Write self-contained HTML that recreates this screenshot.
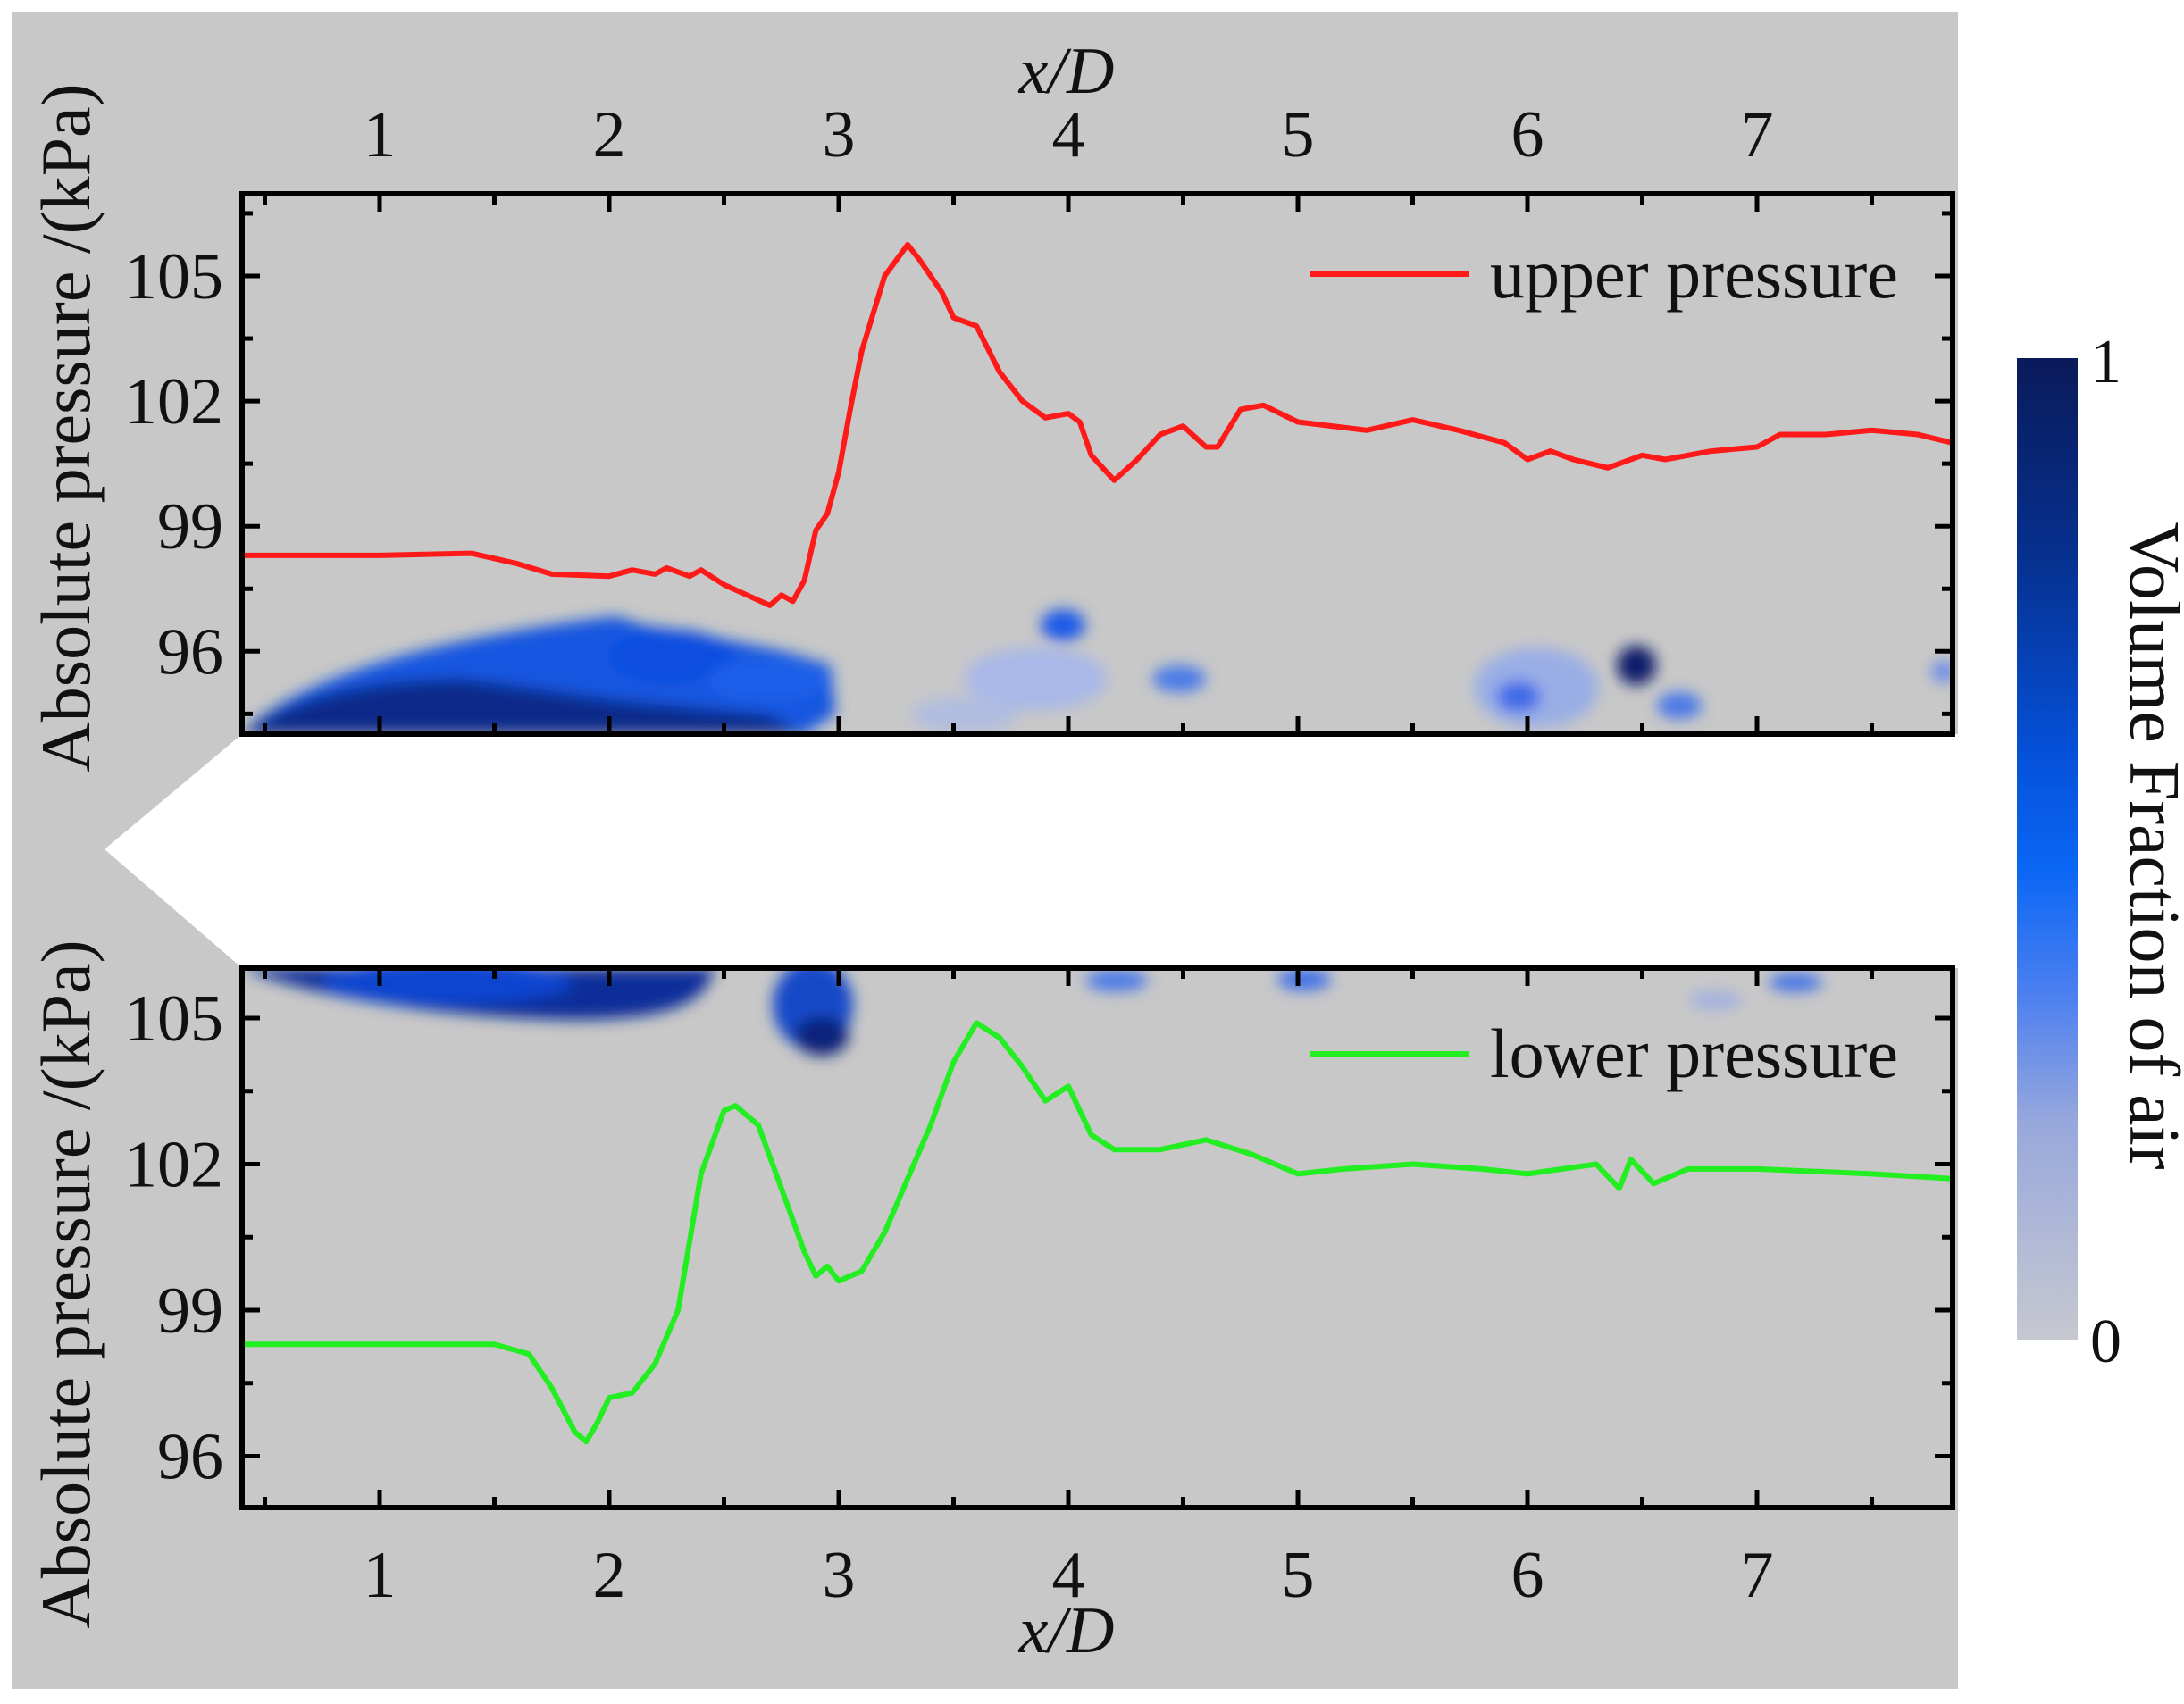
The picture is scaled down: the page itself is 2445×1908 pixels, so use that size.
<!DOCTYPE html>
<html><head><meta charset="utf-8"><style>
html,body{margin:0;padding:0;background:#fff;}
svg{display:block;}
text{font-family:"Liberation Serif",serif;fill:#111;}
</style></head><body>
<svg id="s" width="2445" height="1908" viewBox="0 0 2445 1908" xmlns="http://www.w3.org/2000/svg">
<defs>
<filter id="b1" x="-50%" y="-50%" width="200%" height="200%"><feGaussianBlur stdDeviation="8"/></filter>
<linearGradient id="cb" x1="0" y1="0" x2="0" y2="1">
<stop offset="0" stop-color="#0a1a5a"/>
<stop offset="0.2" stop-color="#06308e"/>
<stop offset="0.4" stop-color="#0550d8"/>
<stop offset="0.52" stop-color="#0a66f5"/>
<stop offset="0.65" stop-color="#4d80f0"/>
<stop offset="0.78" stop-color="#98a8dc"/>
<stop offset="1" stop-color="#c6c8d0"/>
</linearGradient>
<clipPath id="c1"><rect x="271" y="217" width="1915" height="605"/></clipPath>
<clipPath id="c2"><rect x="271" y="1084" width="1915" height="604"/></clipPath>
</defs>
<rect x="13" y="13" width="2179" height="1878" fill="#c8c8c8"/>
<polygon points="271,822 2192,822 2192,1084 271,1084 117,951" fill="#fff"/>

<g clip-path="url(#c1)">
<g filter="url(#b1)">
<path d="M271,822 C330,760 480,715 690,690 L720,700 C760,705 820,718 880,730 L930,745 L935,800 L900,822 Z" fill="#1656e0"/>
<ellipse cx="750" cy="735" rx="70" ry="30" fill="#0a4ee0"/>
<ellipse cx="860" cy="762" rx="70" ry="25" fill="#1a5ee8"/>
<path d="M271,822 C320,780 420,760 520,760 L700,785 L860,800 L900,822 Z" fill="#0b2a8a"/>
<ellipse cx="1190" cy="700" rx="25" ry="18" fill="#1a5ae8"/>
<ellipse cx="1160" cy="760" rx="80" ry="35" fill="#a8b8e8"/>
<ellipse cx="1320" cy="760" rx="30" ry="15" fill="#4a7ae8"/>
<ellipse cx="1080" cy="800" rx="60" ry="20" fill="#b0bde0"/>
<ellipse cx="1720" cy="770" rx="70" ry="45" fill="#9aaee6"/>
<ellipse cx="1700" cy="780" rx="25" ry="18" fill="#3d6ae8"/>
<ellipse cx="1832" cy="745" rx="22" ry="22" fill="#0c1f6a"/>
<ellipse cx="1880" cy="790" rx="25" ry="15" fill="#4a78e8"/>
<ellipse cx="2176" cy="752" rx="14" ry="12" fill="#6a8ae8"/>
</g>
</g>
<g clip-path="url(#c2)">
<g filter="url(#b1)">
<path d="M271,1084 L800,1084 C790,1120 760,1140 650,1142 C480,1140 330,1110 271,1084 Z" fill="#0c2f9a"/>
<ellipse cx="500" cy="1100" rx="140" ry="25" fill="#0a45d0"/>
<ellipse cx="910" cy="1125" rx="45" ry="50" fill="#1548c8"/>
<ellipse cx="920" cy="1160" rx="30" ry="22" fill="#0b237a"/>
<ellipse cx="1250" cy="1098" rx="35" ry="12" fill="#4a78e8"/>
<ellipse cx="1460" cy="1097" rx="30" ry="12" fill="#3c6ee8"/>
<ellipse cx="2010" cy="1100" rx="30" ry="10" fill="#3f70e8"/>
<ellipse cx="1920" cy="1120" rx="30" ry="10" fill="#a0b0e0"/>
</g>
</g>
<g id="plots"></g>

<rect x="2258" y="401" width="68" height="1099" fill="url(#cb)"/>
<text x="2340" y="428" font-size="70">1</text>
<text x="2340" y="1525" font-size="70">0</text>
<text transform="translate(2385,947) rotate(90)" text-anchor="middle" font-size="80">Volume Fraction of air</text>

<text transform="translate(100,479) rotate(-90)" text-anchor="middle" font-size="78">Absolute pressure /(kPa)</text>
<text transform="translate(100,1438) rotate(-90)" text-anchor="middle" font-size="78">Absolute pressure /(kPa)</text>
<text x="1194" y="104" text-anchor="middle" font-size="74" font-style="italic">x/D</text>
<text x="1194" y="1850" text-anchor="middle" font-size="74" font-style="italic">x/D</text>

<line x1="1466" y1="307" x2="1645" y2="307" stroke="#ff1a1a" stroke-width="6"/>
<text x="1668" y="333" font-size="78">upper pressure</text>
<line x1="1466" y1="1180" x2="1645" y2="1180" stroke="#22ee22" stroke-width="6"/>
<text x="1668" y="1206" font-size="78">lower pressure</text>
</svg>
<script>
const NS="http://www.w3.org/2000/svg";
const g=document.getElementById("plots");
function el(t,a,txt){const e=document.createElementNS(NS,t);for(const k in a)e.setAttribute(k,a[k]);if(txt!==undefined)e.textContent=txt;g.appendChild(e);return e;}
const X=x=>168+257*x;
const L=271,R=2186;
const Y1=p=>309+(105-p)*46.7, Y2=p=>1140+(105-p)*54.5;
const up=[[0.4,98.3],[1.0,98.3],[1.4,98.35],[1.6,98.1],[1.75,97.85],[2.0,97.8],[2.1,97.95],[2.2,97.85],[2.25,98.0],[2.35,97.8],[2.4,97.95],[2.5,97.6],[2.6,97.35],[2.7,97.1],[2.75,97.35],[2.8,97.2],[2.85,97.7],[2.9,98.9],[2.95,99.3],[3.0,100.3],[3.05,101.8],[3.1,103.2],[3.2,105.0],[3.3,105.75],[3.35,105.4],[3.45,104.6],[3.5,104.0],[3.6,103.8],[3.7,102.7],[3.8,102.0],[3.9,101.6],[4.0,101.7],[4.05,101.5],[4.1,100.7],[4.2,100.1],[4.3,100.6],[4.4,101.2],[4.5,101.4],[4.6,100.9],[4.65,100.9],[4.75,101.8],[4.85,101.9],[5.0,101.5],[5.3,101.3],[5.5,101.55],[5.7,101.3],[5.9,101.0],[6.0,100.6],[6.1,100.8],[6.2,100.6],[6.35,100.4],[6.5,100.7],[6.6,100.6],[6.8,100.8],[7.0,100.9],[7.1,101.2],[7.3,101.2],[7.5,101.3],[7.7,101.2],[7.85,101.0]];
const lo=[[0.4,98.3],[1.5,98.3],[1.65,98.1],[1.75,97.4],[1.85,96.5],[1.9,96.3],[1.95,96.7],[2.0,97.2],[2.1,97.3],[2.2,97.9],[2.3,99.0],[2.4,101.8],[2.5,103.1],[2.55,103.2],[2.65,102.8],[2.75,101.5],[2.85,100.2],[2.9,99.7],[2.95,99.9],[3.0,99.6],[3.1,99.8],[3.2,100.6],[3.4,102.8],[3.5,104.1],[3.6,104.9],[3.7,104.6],[3.8,104.0],[3.9,103.3],[4.0,103.6],[4.1,102.6],[4.2,102.3],[4.4,102.3],[4.6,102.5],[4.8,102.2],[5.0,101.8],[5.2,101.9],[5.5,102.0],[5.8,101.9],[6.0,101.8],[6.3,102.0],[6.4,101.5],[6.45,102.1],[6.55,101.6],[6.7,101.9],[7.0,101.9],[7.5,101.8],[7.85,101.7]];
el("polyline",{points:up.map(p=>X(p[0]).toFixed(1)+","+Y1(p[1]).toFixed(1)).join(" "),fill:"none",stroke:"#ff1a1a","stroke-width":6,"stroke-linejoin":"round"});
el("polyline",{points:lo.map(p=>X(p[0]).toFixed(1)+","+Y2(p[1]).toFixed(1)).join(" "),fill:"none",stroke:"#22ee22","stroke-width":6,"stroke-linejoin":"round"});
function frame(T,B,Y,pmin,pmax,topLabels,botLabels){
  el("rect",{x:L,y:T,width:R-L,height:B-T,fill:"none",stroke:"#000","stroke-width":6});
  for(let x=0.5;x<=7.85;x+=0.5){const maj=Math.abs(x-Math.round(x))<0.01;const len=maj?20:12;const px=X(x);
    el("line",{x1:px,y1:T,x2:px,y2:T+len,stroke:"#000","stroke-width":5});
    el("line",{x1:px,y1:B,x2:px,y2:B-len,stroke:"#000","stroke-width":5});
    if(maj&&topLabels)el("text",{x:px,y:175,"text-anchor":"middle","font-size":74},String(Math.round(x)));
    if(maj&&botLabels)el("text",{x:px,y:1788,"text-anchor":"middle","font-size":74},String(Math.round(x)));
  }
  for(let p=pmin;p<=pmax;p+=1.5){const py=Y(p);if(py<T+3||py>B-3)continue;const maj=(Math.round(p*2)%6)==0;const len=maj?20:12;
    el("line",{x1:L,y1:py,x2:L+len,y2:py,stroke:"#000","stroke-width":5});
    el("line",{x1:R,y1:py,x2:R-len,y2:py,stroke:"#000","stroke-width":5});
    if(maj)el("text",{x:250,y:py+25,"text-anchor":"end","font-size":74},String(p));
  }
}
frame(217,822,Y1,94.5,106.5,true,false);
frame(1084,1688,Y2,94.5,106.5,false,true);
</script>
</body></html>
